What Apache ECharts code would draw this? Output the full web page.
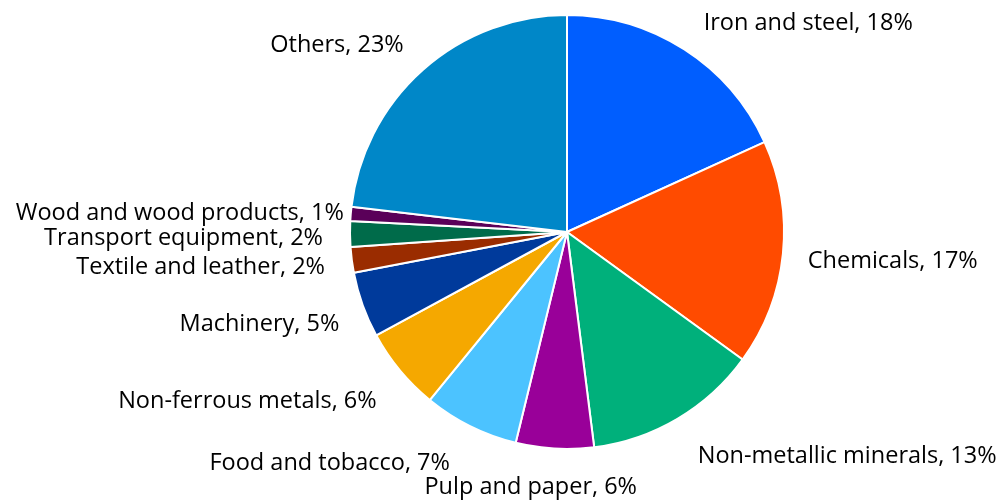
<!DOCTYPE html>
<html>
<head>
<meta charset="utf-8">
<script src="https://cdn.jsdelivr.net/npm/echarts@6/dist/echarts.min.js"></script>
<style>
html,body{margin:0;padding:0;background:#fff;}
#chart{width:1001px;height:501px;}
</style>
</head>
<body>
<div id="chart"></div>
<script>
// Data (share of industrial energy use, %)
var categories = ['Iron and steel', 'Chemicals', 'Non-metallic minerals', 'Pulp and paper',
  'Food and tobacco', 'Non-ferrous metals', 'Machinery', 'Textile and leather',
  'Transport equipment', 'Wood and wood products', 'Others'];
var values = [18.2, 16.8, 13.0, 5.8, 7.1, 6.2, 4.9, 1.9, 1.9, 1.05, 23.15];

// Styling (kept separate from data)
var colors = ['#005EFF', '#FF4B00', '#00B07B', '#990099', '#4CC3FF', '#F5A800',
  '#003A9B', '#9A2C00', '#006B4A', '#5A0059', '#0087C8'];
var labelShift = [[3, -1], [-5, 5], [5, 12], [84, 9], [-7, 10], [0, 12], [5, 9], [3, 4], [3, 4], [23, 2], [1, -2]];

var data = categories.map(function (c, i) {
  return { name: c, value: values[i], itemStyle: { color: colors[i] } };
});

var chart = echarts.init(document.getElementById('chart'), null, { renderer: 'canvas' });
chart.setOption({
  animation: false,
  series: [{
    type: 'pie',
    center: [567, 232],
    radius: 217,
    startAngle: 90,
    clockwise: true,
    avoidLabelOverlap: false,
    itemStyle: { borderColor: '#ffffff', borderWidth: 2 },
    label: {
      show: true,
      position: 'outside',
      distanceToLabelLine: 0,
      fontFamily: 'Open Sans',
      fontSize: 23.5,
      color: '#000000',
      formatter: function (p) { return p.name + ', ' + Math.round(p.percent) + '%'; }
    },
    labelLine: { show: false, length: 30, length2: 0 },
    labelLayout: function (p) {
      var s = labelShift[p.dataIndex];
      return { dx: s[0], dy: s[1] };
    },
    emphasis: { disabled: true },
    data: data
  }]
});
</script>
</body>
</html>
